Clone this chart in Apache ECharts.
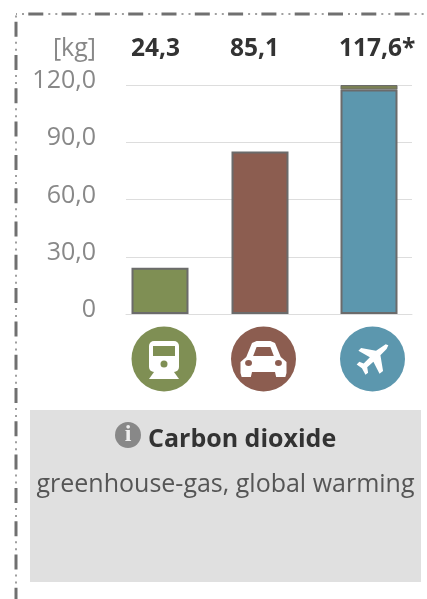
<!DOCTYPE html>
<html>
<head>
<meta charset="utf-8">
<style>
  html, body { margin: 0; padding: 0; background: #ffffff; }
  #chart { width: 427px; height: 599px; }
</style>
</head>
<body>
<div id="chart"></div>
<script src="https://cdn.jsdelivr.net/npm/echarts@6/dist/echarts.min.js"></script>
<script>
const categories = ["Train", "Car", "Plane"];
const co2Values = [24.3, 85.1, 117.6];
const capValues = [0, 0, 2.4];
const valueLabels = ["24,3", "85,1", "117,6*"];
const tickLabels = { 0: "0", 30: "30,0", 60: "60,0", 90: "90,0", 120: "120,0" };
const colors = ["#7f8f54", "#8c5d50", "#5c97ae"];

const fontFamily = '"Open Sans", "Noto Sans", sans-serif';

// one grid per bar, the spacing in the original is not even
const gridSlots = [
  { left: 126, width: 68 },
  { left: 194, width: 132 },
  { left: 326, width: 86 }
];
const labelX = [131, 230, 339];
const iconX = [164, 263.5, 372.5];
const iconY = 359;

// icons, drawn around 0,0
const trainIcon = color => [
  { type: "rect", shape: { x: -15, y: -18, width: 30, height: 31, r: 5 }, style: { fill: "#fff" } },
  { type: "rect", shape: { x: -11, y: -13, width: 22, height: 10 }, style: { fill: color } },
  { type: "circle", shape: { cx: 0, cy: 5, r: 3.5 }, style: { fill: color } },
  { type: "polygon", shape: { points: [[-10, 13], [10, 13], [15, 20], [-15, 20]] }, style: { fill: "#fff" } }
];
const carIcon = color => [
  {
    type: "group",
    scaleX: 1.15,
    children: [
      { type: "polygon", shape: { points: [[-15, -2], [-10, -16], [-6, -18], [6, -18], [10, -16], [15, -2], [20, 3], [20, 14], [19, 18], [11, 18], [10, 13], [-10, 13], [-11, 18], [-19, 18], [-20, 14], [-20, 3]] }, style: { fill: "#fff" } },
      { type: "polygon", shape: { points: [[-9, -3], [-6, -12], [6, -12], [9, -3]] }, style: { fill: color } },
      { type: "circle", shape: { cx: -13, cy: 4, r: 3 }, style: { fill: color } },
      { type: "circle", shape: { cx: 13, cy: 4, r: 3 }, style: { fill: color } }
    ]
  }
];
const planeIcon = () => [
  {
    type: "group",
    scaleX: 0.88,
    scaleY: 0.92,
    children: [
      { type: "polygon", shape: { points: [[15, -16], [18, -15], [16, -11], [9, -4], [12, 13], [8, 16], [1, 3], [-6, 9], [-5, 15], [-8, 17], [-12, 10], [-18, 6], [-15, 3], [-10, 5], [-3, -2], [-16, -9], [-13, -12], [4, -9]] }, style: { fill: "#fff" } }
    ]
  }
];
const iconShapes = [trainIcon, carIcon, planeIcon];

// dash-dot-dot frame: thick dashes and thin dots are drawn as two lines
const frameLine = (x2, y2, start) => [
  { type: "line", shape: { x1: 16, y1: 14, x2, y2 }, style: { stroke: "#707070", lineWidth: 3, lineDash: [15, 18.3], lineDashOffset: -start } },
  { type: "line", shape: { x1: 16, y1: 14, x2, y2 }, style: { stroke: "#808080", lineWidth: 1.5, lineDash: [2, 5, 2, 24.3], lineDashOffset: -(start + 20) } }
];

const chart = echarts.init(document.getElementById("chart"));

const option = {
  animation: false,
  backgroundColor: "#ffffff",
  textStyle: { fontFamily },
  grid: gridSlots.map(slot => ({ left: slot.left, width: slot.width, top: 85, height: 229 })),
  xAxis: categories.map((name, i) => ({
    type: "category",
    gridIndex: i,
    data: [name],
    axisTick: { show: false },
    axisLabel: { show: false },
    axisLine: { lineStyle: { color: "#dddddd", width: 1 } }
  })),
  yAxis: categories.map((name, i) => ({
    type: "value",
    gridIndex: i,
    min: 0,
    max: 120,
    interval: 30,
    axisLine: { show: false },
    axisTick: { show: false },
    splitLine: { lineStyle: { color: "#dddddd", width: 1 } },
    axisLabel: {
      show: i === 0,
      margin: 30,
      fontSize: 25,
      color: "#888888",
      fontFamily,
      // the labels sit a little above their grid line
      verticalAlign: "bottom",
      lineHeight: 8,
      formatter: value => tickLabels[value]
    }
  })),
  series: categories.flatMap((name, i) => [
    {
      name,
      type: "bar",
      xAxisIndex: i,
      yAxisIndex: i,
      stack: name,
      barWidth: 57,
      data: [co2Values[i]],
      itemStyle: { color: colors[i], borderColor: "#6b6b6b", borderWidth: 2 }
    },
    {
      name: name + " cap",
      type: "bar",
      xAxisIndex: i,
      yAxisIndex: i,
      stack: name,
      barWidth: 57,
      data: [capValues[i]],
      itemStyle: { color: "#7a8055", borderColor: "#6b6b6b", borderWidth: capValues[i] ? 1 : 0 }
    }
  ]),
  graphic: [
    ...frameLine(427, 14, 12.3),
    ...frameLine(16, 599, 7.7),
    { type: "text", style: { x: 96, y: 49, text: "[kg]", align: "right", verticalAlign: "middle", fontSize: 25, fontFamily, fill: "#888888" } },
    ...valueLabels.map((text, i) => ({
      type: "text",
      style: { x: labelX[i], y: 49, text, verticalAlign: "middle", fontSize: 24.5, fontWeight: "bold", fontFamily, fill: "#333333" }
    })),
    ...categories.map((name, i) => ({
      type: "group",
      x: iconX[i],
      y: iconY,
      children: [
        { type: "circle", shape: { cx: 0, cy: 0, r: 32.5 }, style: { fill: colors[i] } },
        ...iconShapes[i](colors[i])
      ]
    })),
    // info box
    { type: "rect", shape: { x: 30, y: 410, width: 391, height: 172 }, style: { fill: "#e0e0e0" } },
    { type: "circle", shape: { cx: 128, cy: 435, r: 13 }, style: { fill: "#888888" } },
    { type: "text", style: { x: 128, y: 435, text: "i", align: "center", verticalAlign: "middle", fontSize: 24, fontWeight: "bold", fontFamily: "Liberation Serif", fill: "#eeeeee" } },
    { type: "text", style: { x: 148, y: 440, text: "Carbon dioxide", verticalAlign: "middle", fontSize: 25, fontWeight: "bold", fontFamily, fill: "#333333" } },
    { type: "text", style: { x: 225.5, y: 485, text: "greenhouse-gas, global warming", align: "center", verticalAlign: "middle", fontSize: 25, fontFamily, fill: "#555555" } }
  ]
};

chart.setOption(option);
</script>
</body>
</html>
